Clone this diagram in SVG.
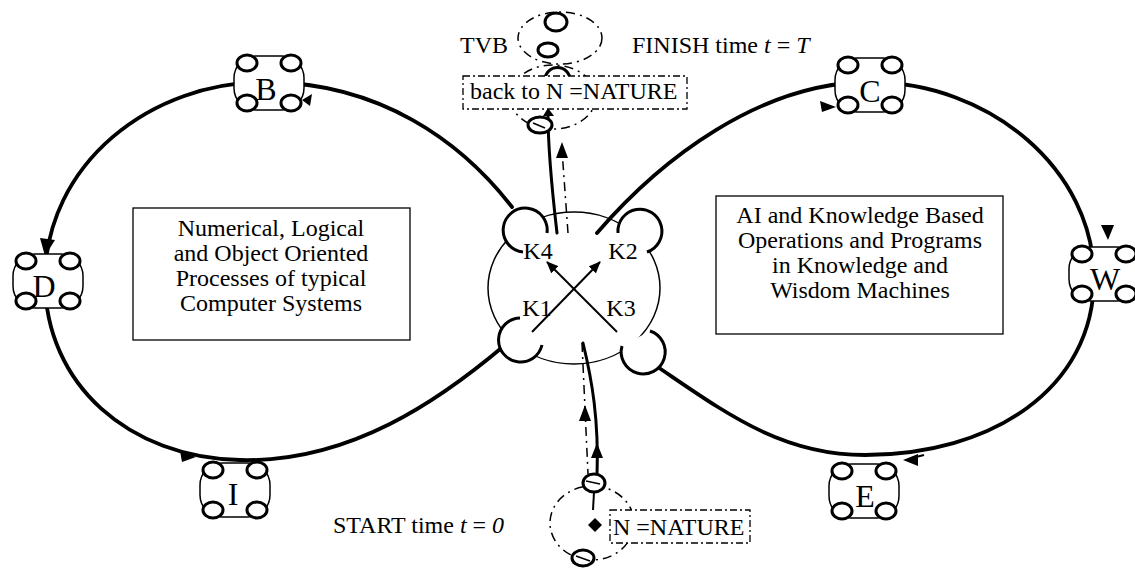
<svg xmlns="http://www.w3.org/2000/svg" width="1135" height="569" viewBox="0 0 1135 569">
<style>
.t{font-family:"Liberation Serif","Times New Roman",serif;font-size:24px;fill:#000}
.lb{font-family:"Liberation Serif","Times New Roman",serif;font-size:32px;fill:#000;text-anchor:middle}
.it{font-style:italic}
.body{fill:#fff;stroke:#000;stroke-width:1.5}
.sc{fill:#fff;stroke:#000;stroke-width:3}
.loop{fill:none;stroke:#000;stroke-width:3.8;stroke-linecap:round}
.kl{fill:#fff;stroke:#000;stroke-width:3}
.ah{fill:#000;stroke:none}
.thin{fill:none;stroke:#000;stroke-width:2}
.dd{fill:none;stroke:#000;stroke-width:1.5;stroke-dasharray:9 5 2 5}
.ddb{fill:#fff;stroke:#000;stroke-width:1.3;stroke-dasharray:7 3 2 3}
.box{fill:#fff;stroke:#000;stroke-width:1.3}
</style>
<defs>
<marker id="arr" viewBox="0 0 12 10" refX="11" refY="5" markerWidth="12" markerHeight="10" markerUnits="userSpaceOnUse" orient="auto">
<path d="M0,0 L12,5 L0,10 Z" fill="#000"/>
</marker>
<g id="nd">
<rect class="body" x="-35" y="-27" width="70" height="54" rx="22" ry="22"/>
<ellipse class="sc" cx="-22" cy="-20" rx="10" ry="8"/>
<ellipse class="sc" cx="22" cy="-20" rx="10" ry="8"/>
<ellipse class="sc" cx="-22" cy="20" rx="10" ry="8"/>
<ellipse class="sc" cx="22" cy="20" rx="10" ry="8"/>
</g>
</defs>
<rect width="1135" height="569" fill="#fff"/>

<g id="connectors">
<path class="loop" d="M512,207 C460,140 380,84 270,82 C150,80 45,165 45,280 C45,385 130,458 240,460 C350,463 440,400 505,345"/>
<path class="loop" d="M597,233 C660,160 760,82 870,82 C990,82 1094,170 1094,278 C1094,390 990,455 865,455 C770,455 710,400 632,350"/>
<path class="loop" style="stroke-width:3" d="M557,233 C552,190 548,150 548,114"/>
<path class="dd" d="M568,233 L562,150"/>
<path class="loop" style="stroke-width:3" d="M583,343 C592,380 599,420 597,476"/>
<path class="dd" d="M582,343 L588,474"/>
<line class="thin" x1="593" y1="510" x2="594" y2="492"/>
<line class="thin" x1="532" y1="332" x2="600" y2="262" marker-end="url(#arr)"/>
<line class="thin" x1="617" y1="332" x2="547" y2="262" marker-end="url(#arr)"/>
<polygon class="ah" points="302,100 312,94 310,106"/>
<polygon class="ah" points="836,107 820,101 822,112"/>
<polygon class="ah" points="45,256 40,238 55,240"/>
<polygon class="ah" points="1108,240 1101,225 1114,225"/>
<polygon class="ah" points="903,460 918,454 918,466"/>
<line class="thin" x1="912" y1="458" x2="924" y2="455"/>
<polygon class="ah" points="196,457 180,451 182,462"/>
<polygon class="ah" points="519,339 503,343 512,352"/>
<polygon class="ah" points="627,348 642,352 634,361"/>
<polygon class="ah" points="562,142 556,158 568,158"/>
<polygon class="ah" points="585,405 579,421 591,421"/>
<polygon class="ah" points="597,443 591,458 603,458"/>
<polygon class="ah" points="548,108 543,116 554,116"/>
</g>

<g id="hub">
<ellipse cx="574" cy="288" rx="86" ry="76" fill="none" stroke="#000" stroke-width="1.5"/>
<path class="kl" d="M547,233 A22,22 0 1 0 523,252"/>
<path class="kl" d="M618,233 A22,22 0 1 1 647,252"/>
<path class="kl" d="M520,318 A22,22 0 1 0 542,345"/>
<path class="kl" d="M650,331 A22,22 0 1 1 622,346"/>
<text class="t" x="538" y="259" text-anchor="middle">K4</text>
<text class="t" x="623" y="259" text-anchor="middle">K2</text>
<text class="t" x="537" y="316" text-anchor="middle">K1</text>
<text class="t" x="621" y="316" text-anchor="middle">K3</text>
</g>

<g id="node-B"><use href="#nd" x="269" y="83"/><text class="lb" x="266" y="100">B</text></g>
<g id="node-C"><use href="#nd" x="870" y="85"/><text class="lb" x="870" y="102">C</text></g>
<g id="node-D"><use href="#nd" x="48" y="281"/><text class="lb" x="44" y="297">D</text></g>
<g id="node-W"><use href="#nd" x="1104" y="274"/><text class="lb" x="1105" y="290">W</text></g>
<g id="node-I"><use href="#nd" x="235" y="490"/><text class="lb" x="233" y="505">I</text></g>
<g id="node-E"><use href="#nd" x="864" y="491"/><text class="lb" x="865" y="507">E</text></g>

<g id="box-left">
<rect class="box" x="133" y="208" width="277" height="132"/>
<text class="t" text-anchor="middle"><tspan x="271" y="236">Numerical, Logical</tspan><tspan x="271" y="261">and Object Oriented</tspan><tspan x="271" y="286">Processes of typical</tspan><tspan x="271" y="311">Computer Systems</tspan></text>
</g>

<g id="box-right">
<rect class="box" x="716" y="196" width="287" height="138"/>
<text class="t" text-anchor="middle"><tspan x="860" y="223">AI and Knowledge Based</tspan><tspan x="860" y="248">Operations and Programs</tspan><tspan x="860" y="273">in Knowledge and</tspan><tspan x="860" y="298">Wisdom Machines</tspan></text>
</g>

<g id="tvb">
<ellipse class="dd" cx="560" cy="38" rx="42" ry="26"/>
<ellipse class="dd" cx="553" cy="97" rx="43" ry="32"/>
<ellipse class="sc" cx="556" cy="22" rx="11" ry="9"/>
<ellipse class="sc" cx="548" cy="50" rx="10" ry="7"/>
<path class="sc" d="M545,80 A12,12 0 0 1 570,80"/>
<rect class="ddb" x="463" y="76" width="224" height="33"/>
<text class="t" x="470" y="99">back to N =NATURE</text>
<ellipse class="sc" cx="540" cy="125" rx="12" ry="8"/>
<line x1="533" y1="123" x2="545" y2="128" stroke="#000" stroke-width="1.5"/>
<text class="t" x="460" y="53">TVB</text>
<text class="t" x="632" y="53">FINISH time  <tspan class="it">t</tspan> = <tspan class="it">T</tspan></text>
</g>

<g id="nature">
<ellipse class="dd" cx="592" cy="523" rx="42" ry="37"/>
<ellipse class="sc" cx="594" cy="483" rx="11" ry="9"/>
<line x1="586" y1="481" x2="600" y2="484" stroke="#000" stroke-width="1.5"/>
<ellipse class="sc" cx="583" cy="558" rx="11" ry="8"/>
<line x1="576" y1="556" x2="590" y2="561" stroke="#000" stroke-width="1.5"/>
<polygon class="ah" points="595,518 602,525 595,532 588,525"/>
<rect class="ddb" x="610" y="510" width="140" height="33"/>
<text class="t" x="613" y="535">N =NATURE</text>
<text class="t" x="333" y="533">START time  <tspan class="it">t</tspan> = <tspan class="it">0</tspan></text>
</g>
</svg>
